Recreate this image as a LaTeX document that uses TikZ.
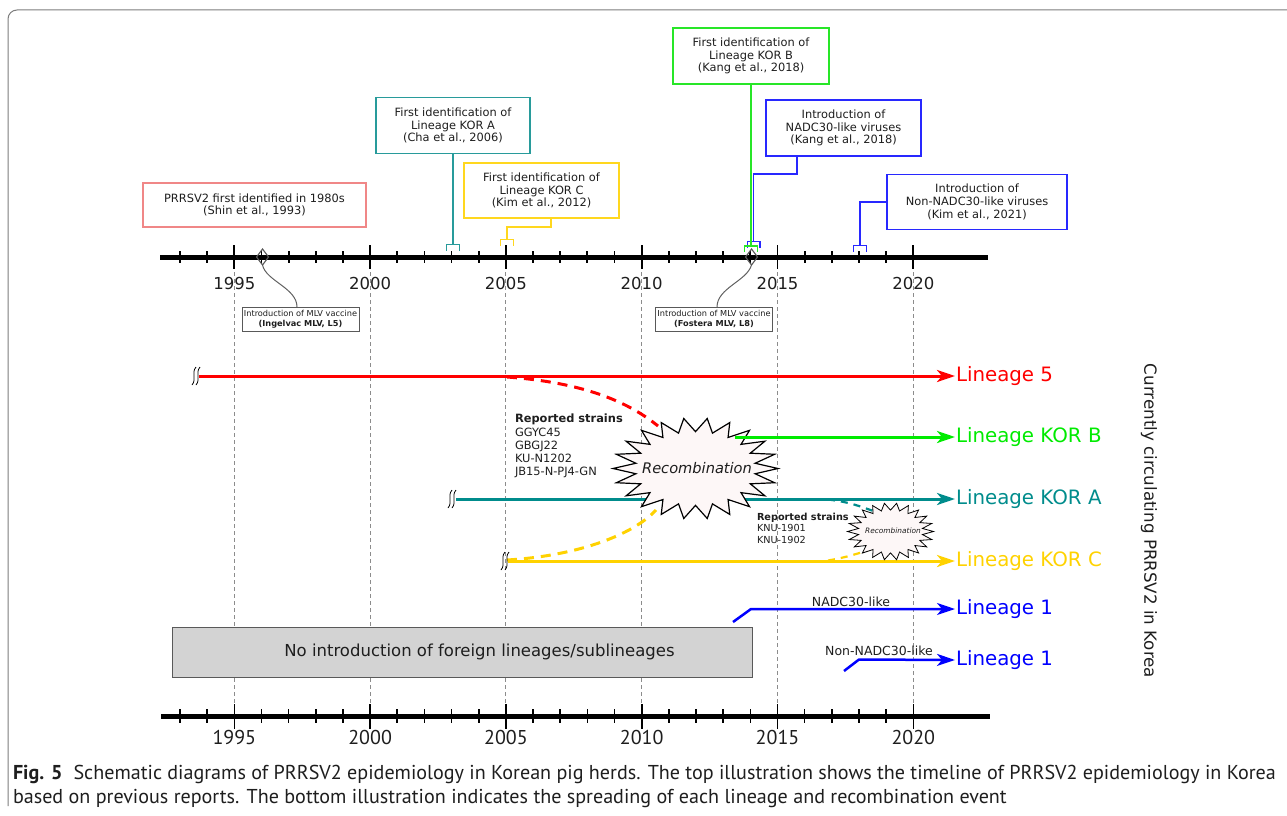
\documentclass[tikz,border=0pt]{standalone}
\usepackage{fontspec}
\setmainfont{DejaVu Sans}
\newfontfamily\capfont{PT Sans}
\usetikzlibrary{arrows.meta,calc,shapes.geometric}
\definecolor{cRed}{RGB}{255,0,0}
\definecolor{cGreen}{RGB}{0,235,0}
\definecolor{cGreenBox}{RGB}{40,230,40}
\definecolor{cTeal}{RGB}{0,140,140}
\definecolor{cTealBox}{RGB}{40,155,155}
\definecolor{cYellow}{RGB}{255,210,0}
\definecolor{cYellowBox}{RGB}{255,215,30}
\definecolor{cBlue}{RGB}{0,0,255}
\definecolor{cBlueBox}{RGB}{40,40,255}
\definecolor{cPink}{RGB}{240,135,135}
\definecolor{cGrid}{RGB}{140,140,140}
\definecolor{cStar}{RGB}{253,247,247}
\definecolor{cBoxGray}{RGB}{211,211,211}
\definecolor{cFrame}{RGB}{125,125,125}
\definecolor{cText}{RGB}{30,30,30}
\newcommand\mybracket[3]{\draw[#1, line width=1.4pt] (#2-6.3,#3+6) -- (#2-6.3,#3) -- (#2+6.3,#3) -- (#2+6.3,#3+6);}
\begin{document}
\begin{tikzpicture}[x=1pt,y=-1pt,
  every node/.style={inner sep=0pt, outer sep=0pt, text=cText},
  axisline/.style={line width=5pt},
  tickmark/.style={line width=1.8pt},
  toplab/.style={font=\fontsize{16.5}{18}\selectfont},
  botlab/.style={font=\capfont\fontsize{20}{22}\selectfont},
  gridline/.style={draw=cGrid, dash pattern=on 4pt off 3pt, line width=0.9pt},
  infobox/.style={draw, line width=1.4pt, fill=white, align=center, font=\fontsize{11.4}{12.8}\selectfont},
  conn/.style={line width=1.5pt},
  vacbox/.style={draw=gray!70!black, line width=1pt, fill=white, align=center, minimum width=117pt, minimum height=24pt, font=\fontsize{8.2}{10}\selectfont},
  vcurve/.style={draw=gray!75!black, line width=1pt},
  diam/.style={draw=gray!70!black, line width=1.1pt, diamond, aspect=0.75, minimum width=12pt, minimum height=16pt},
  lin/.style={line width=3pt, -{Stealth[length=18pt,width=12pt,inset=5pt]}},
  lin1/.style={line width=2.5pt, -{Stealth[length=18pt,width=12pt,inset=5pt]}},
  dsh/.style={line width=3pt, dash pattern=on 10pt off 7pt},
  sdsh/.style={line width=2.2pt, dash pattern=on 7pt off 6pt},
  linlab/.style={anchor=west, inner sep=1pt, font=\fontsize{19.8}{22}\selectfont},
  brkmark/.style={draw=black, line width=0.8pt},
  starshape/.style={draw=black, fill=cStar, line join=miter},
  capstyle/.style={anchor=base west, font=\capfont\fontsize{20.1}{24}\selectfont}
]
\useasboundingbox (0,0) rectangle (1287,816);
% frame
\draw[cFrame, line width=1pt, rounded corners=9pt] (8,806) -- (8,10) -- (1295,10);
% grid lines
\foreach \yr in {1995,2000,...,2020}{
  \pgfmathsetmacro\xx{234.3+27.16*(\yr-1995)}
  \draw[gridline] (\xx,272) -- (\xx,706);
}
% top axis
\coordinate (tA) at (160,257);
\coordinate (tB) at (988,257);
\draw[axisline] (tA) -- (tB);
\foreach \yr in {1993,...,2020}{
  \pgfmathsetmacro\xx{234.3+27.16*(\yr-1995)}
  \draw[tickmark] (\xx,251) -- (\xx,263);
}
\foreach \yr in {1995,2000,...,2020}{
  \pgfmathsetmacro\xx{234.3+27.16*(\yr-1995)}
  \draw[tickmark] (\xx,245) -- (\xx,269);
  \node[toplab] (tl\yr) at (\xx,283) {\yr};
}
% bottom axis
\coordinate (bA) at (161,716);
\coordinate (bB) at (990,716);
\draw[axisline] (bA) -- (bB);
\foreach \yr in {1993,...,2020}{
  \pgfmathsetmacro\xx{234.3+27.16*(\yr-1995)}
  \draw[line width=1.6pt] (\xx,709) -- (\xx,723);
}
\foreach \yr in {1995,2000,...,2020}{
  \pgfmathsetmacro\xx{234.3+27.16*(\yr-1995)}
  \draw[line width=1.6pt] (\xx,704) -- (\xx,729);
  \node[botlab] (bl\yr) at (\xx,737) {\yr};
}
% top boxes
\node[infobox, draw=cPink, minimum width=223pt, minimum height=44pt] (pinkbox) at (254.5,205) {PRRSV2 first identified in 1980s\\(Shin et al., 1993)};
\node[infobox, draw=cTealBox, minimum width=154pt, minimum height=56pt] (tealbox) at (453,125.5) {First identification of\\Lineage KOR A\\(Cha et al., 2006)};
\node[infobox, draw=cYellowBox, minimum width=155pt, minimum height=55pt] (yelbox) at (541.5,190.5) {First identification of\\Lineage KOR C\\(Kim et al., 2012)};
\node[infobox, draw=cGreenBox, minimum width=156pt, minimum height=56pt] (grnbox) at (751,56) {First identification of\\Lineage KOR B\\(Kang et al., 2018)};
\node[infobox, draw=cBlueBox, minimum width=155pt, minimum height=56pt] (bluebox) at (843.5,128) {Introduction of\\NADC30-like viruses\\(Kang et al., 2018)};
\node[infobox, draw=cBlueBox, minimum width=180pt, minimum height=55pt] (bluebox2) at (977,202) {Introduction of\\Non-NADC30-like viruses\\(Kim et al., 2021)};
% connectors to brackets
\coordinate (brA) at (453,244.5);
\coordinate (brC) at (507,239.5);
\coordinate (brB) at (751,246);
\coordinate (brN) at (753.5,241.5);
\coordinate (brM) at (860,245.5);
\draw[conn, cTealBox] (tealbox.south) -- (brA);
\mybracket{cTealBox}{453}{244.5}
\draw[conn, cYellowBox] ([xshift=9.5pt]yelbox.south) -- ++(0,9) -| (brC);
\mybracket{cYellowBox}{507}{239.5}
\draw[conn, cBlueBox] ([xshift=-46.5pt]bluebox.south) -- ++(0,18) -| (brN);
\mybracket{cBlueBox}{753.5}{241.5}
\draw[conn, cGreenBox] (grnbox.south) -- (brB);
\mybracket{cGreenBox}{751}{246}
\draw[conn, draw=cBlueBox] (bluebox2.west) -| (brM);
\mybracket{cBlueBox}{860}{245.5}
% vaccines
\node[diam] (d1) at (262.5,257) {};
\node[diam] (d2) at (751.5,257) {};
\node[vacbox] (vac1) at (300.5,319) {Introduction of MLV vaccine\\\textbf{(Ingelvac MLV, L5)}};
\node[vacbox] (vac2) at (714,319) {Introduction of MLV vaccine\\\textbf{(Fostera MLV, L8)}};
\draw[vcurve] (d1.south) .. controls (266,281) and (297,288) .. (vac1.north -| 297,0);
\draw[vcurve] (d2.south) .. controls (747,281) and (717,288) .. (vac2.north -| 717,0);
% lineage labels
\node[linlab, text=cRed] (l5) at (955,376) {Lineage 5};
\node[linlab, text=cGreen] (lB) at (955,437) {Lineage KOR B};
\node[linlab, text=cTeal] (lA) at (955,499) {Lineage KOR A};
\node[linlab, text=cYellow] (lC) at (955,561) {Lineage KOR C};
\node[linlab, text=cBlue] (l1a) at (955,609) {Lineage 1};
\node[linlab, text=cBlue] (l1b) at (955,660) {Lineage 1};
% start coordinates
\coordinate (s5) at (199,376);
\coordinate (sB) at (735,437);
\coordinate (sA) at (456,499);
\coordinate (sC) at (508,561);
% lines
\draw[lin, cRed] (s5) -- (l5.west);
\draw[lin, cTeal] (sA) -- (lA.west);
\draw[lin, cYellow] (sC) -- (lC.west);
\draw[dsh, cRed] (507,377) .. controls (590,383) and (632,405) .. (658,426);
\draw[dsh, cYellow] (507,560) .. controls (575,556) and (632,536) .. (656,510);
\draw[sdsh, cTeal] (828,499.5) .. controls (850,502) and (862,507) .. (876,512);
\draw[sdsh, cYellow] (828,560.5) .. controls (848,557) and (860,553) .. (871,549);
% break marks
\foreach \bx/\by in {194/376, 450/499, 503/561}{
  \draw[brkmark] (\bx-2,\by+9) .. controls (\bx+3,\by+3) and (\bx-3,\by-3) .. (\bx+2,\by-9);
  \draw[brkmark] (\bx+2,\by+9) .. controls (\bx+7,\by+3) and (\bx+1,\by-3) .. (\bx+6,\by-9);
}
% big star
\begin{scope}[shift={(695.5,468.5)}]
\draw[starshape, line width=1.2pt] (0:82.5 and 50.5) \foreach \i [evaluate=\i as \r using {1-0.27*mod(\i,2)}] in {1,...,43} { -- ({\i*360/44}:{82.5*\r} and {50.5*\r}) } -- cycle;
\end{scope}
\node[font=\itshape\fontsize{14.6}{16}\selectfont] (rec1) at (697,468) {Recombination};
\draw[lin, cGreen] (sB) -- (lB.west);
% small star
\begin{scope}[shift={(890.5,531.5)}]
\draw[starshape, line width=0.8pt] (0:43 and 28.5) \foreach \i [evaluate=\i as \r using {1-0.25*mod(\i,2)}] in {1,...,43} { -- ({\i*360/44}:{43*\r} and {28.5*\r}) } -- cycle;
\end{scope}
\node[font=\itshape\fontsize{7.4}{9}\selectfont] (rec2) at (893,531) {Recombination};
% reported strains
\node[anchor=north west, align=left, font=\fontsize{11.4}{13}\selectfont] (rs1) at (515,414) {\textbf{Reported strains}\\[1pt]GGYC45\\GBGJ22\\KU-N1202\\JB15-N-PJ4-GN};
\node[anchor=north west, align=left, font=\fontsize{9.7}{11.5}\selectfont] (rs2) at (757,513) {\textbf{Reported strains}\\KNU-1901\\KNU-1902};
% lineage 1 lines
\coordinate (n1) at (733,622);
\coordinate (n1k) at (751,609);
\coordinate (n2) at (844,671);
\coordinate (n2k) at (859,659.5);
\draw[lin1, cBlue] (n1) -- (n1k) -- (l1a.west);
\draw[lin1, cBlue] (n2) -- (n2k) -- (l1b.west);
\node[font=\fontsize{12.5}{14}\selectfont] (nadc) at (851,602) {NADC30-like};
\node[font=\fontsize{12.5}{14}\selectfont] (nnadc) at (879,651) {Non-NADC30-like};
% gray box
\node[draw=gray!70!black, line width=1pt, fill=cBoxGray, minimum width=580pt, minimum height=50pt, font=\fontsize{16.5}{18}\selectfont] (nobox) at (462,652) {\hspace*{35pt}No introduction of foreign lineages/sublineages};
% vertical text
\node[rotate=-90, font=\fontsize{16.7}{18}\selectfont] (curr) at (1149,521) {Currently circulating PRRSV2 in Korea};
% caption
\node[capstyle] (cap1) at (13,779) {\textbf{Fig. 5}\hspace{0.55em}Schematic diagrams of PRRSV2 epidemiology in Korean pig herds. The top illustration shows the timeline of PRRSV2 epidemiology in Korea};
\node[capstyle] (cap2) at (13,803) {based on previous reports. The bottom illustration indicates the spreading of each lineage and recombination event};
\end{tikzpicture}
\end{document}
